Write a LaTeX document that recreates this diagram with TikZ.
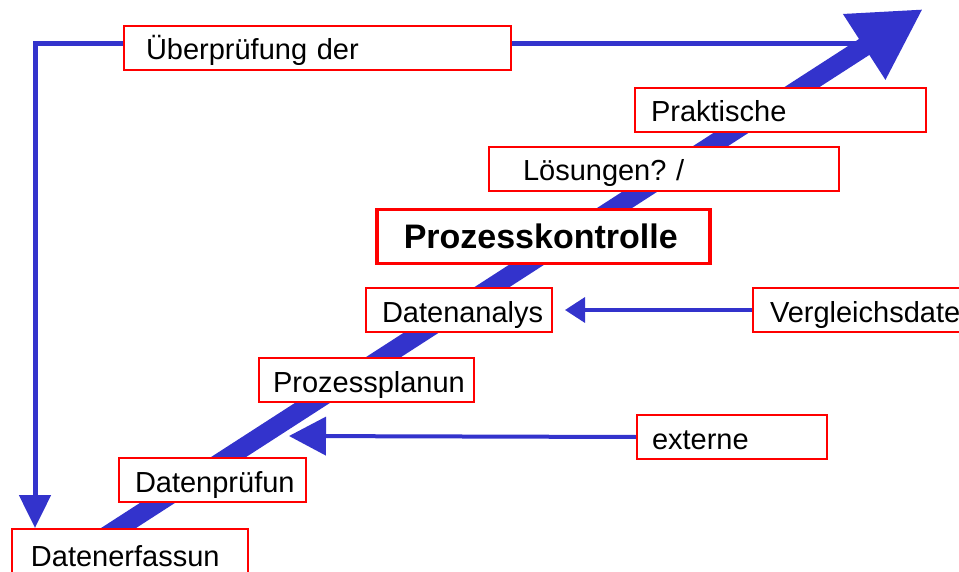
\documentclass[tikz,border=0pt]{standalone}
\usepackage{fontspec}
\setmainfont{Liberation Sans}
\usetikzlibrary{arrows.meta,backgrounds}
\definecolor{flowblue}{RGB}{51,51,204}
\frenchspacing

\begin{document}
\begin{tikzpicture}[x=1pt,y=-1pt,
    box/.style 2 args={rectangle,draw=red,fill=white,line width=2pt,anchor=north west,
        inner xsep=0pt,inner ysep=0pt,minimum height=44pt,text height=24pt,text depth=0pt,
        align=left,text width=#1,execute at begin node={\hspace*{#2}},
        font=\fontsize{29}{34}\selectfont},
    flow/.style={draw=flowblue,line width=#1}]
      \useasboundingbox (0,0) rectangle (959,572);

      \node[box={236pt}{19pt},minimum height=50pt] (Erfassung)    at (11,528)  {Datenerfassun};
      \node[box={187pt}{16pt}]                     (Pruefung)     at (118,457) {Datenprüfun};
      \node[box={215pt}{14pt}]                     (Planung)      at (258,357) {Prozessplanun};
      \node[box={186pt}{16pt}]                     (Analyse)      at (365,287) {Datenanalys};
      \node[box={333pt}{27pt},minimum height=54pt,line width=3.5pt,
            font=\fontsize{34}{40}\selectfont\bfseries] (Kontrolle) at (375,208) {Prozesskontrolle};
      \node[box={350pt}{34pt}]                     (Loesungen)    at (488,146) {Lösungen? /};
      \node[box={291pt}{16pt}]                     (Praktisch)    at (634,87)  {Praktische};
      \node[box={387pt}{22pt}]                     (Ueberpruefung) at (123,25) {Überprüfung der};
      \node[box={240pt}{17pt}]                     (Vergleich)    at (752,287) {Vergleichsdate};
      \node[box={190pt}{15pt}]                     (Extern)       at (636,414) {externe};

      \coordinate (start) at (69,560);
      \coordinate (goal)  at (923,9);
      \coordinate (turn)  at (857,44);
      \coordinate (extin) at (289,436);

      \begin{scope}[on background layer]
        \draw[flow=19pt,-{Triangle[width=73pt,length=70pt]}] (start) -- (goal);
        \draw[flow=5pt,-{Triangle[width=31pt,length=33pt]}] (turn) -| ([xshift=24pt]Erfassung.north west);
        \draw[flow=3.5pt,-{Triangle[width=25pt,length=20pt]}] (Vergleich.west) -- ([xshift=12pt]Analyse.east);
        \draw[flow=4pt,-{Triangle[width=38pt,length=37pt]}] (Extern.west) -- (extin);
      \end{scope}
\end{tikzpicture}
\end{document}
